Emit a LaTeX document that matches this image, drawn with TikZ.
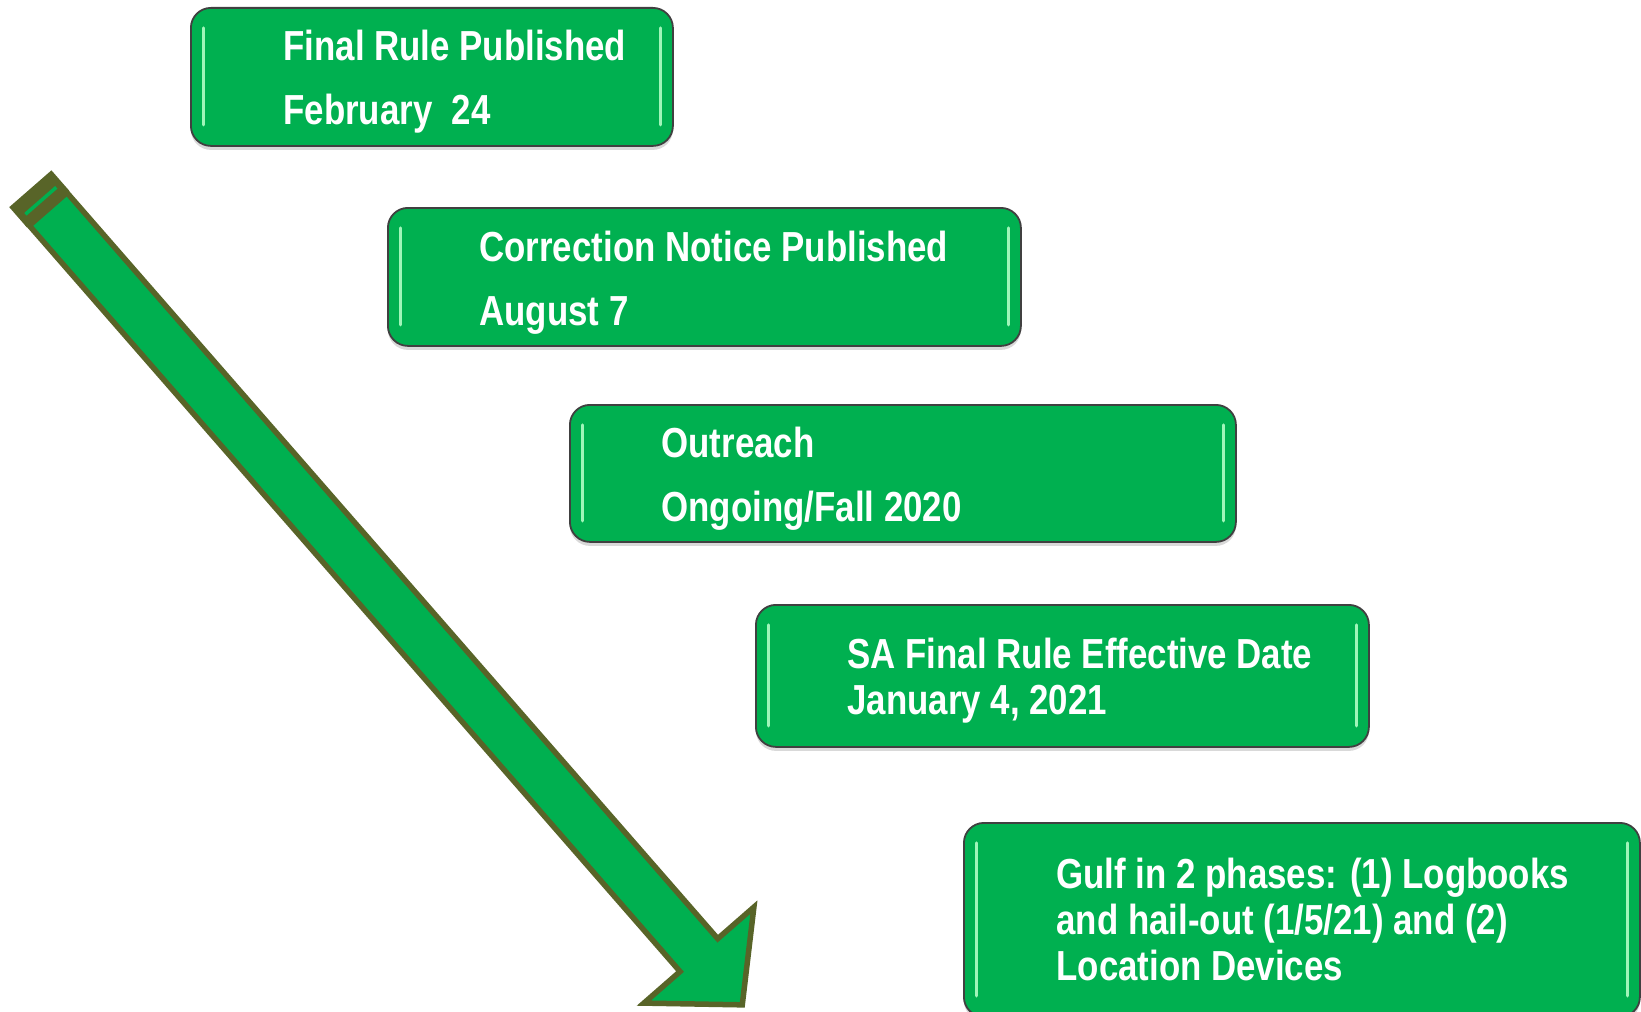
\documentclass[tikz,border=0pt]{standalone}
\usepackage{fontspec}
\newfontfamily\boxfont{Liberation Sans}[FakeStretch=0.83]
\usepackage{xcolor}
\usetikzlibrary{positioning, shadows}

\definecolor{boxgreen}{RGB}{0,176,80}
\definecolor{arrowedge}{RGB}{88,100,40}
\definecolor{hilite}{RGB}{160,245,185}

\begin{document}
\begin{tikzpicture}[x=0.5pt, y=-0.5pt,
			stepbox/.style={draw=black!75, line width=0.9pt, fill=boxgreen, rounded corners=10pt,
				anchor=north west, inner sep=0pt,
				drop shadow={opacity=0.3, shadow xshift=0pt, shadow yshift=-2pt},
				path picture={
					\draw[hilite, line width=1.6pt, line cap=round]
						([xshift=6.25pt, yshift=-10pt]path picture bounding box.north west) --
						([xshift=6.25pt, yshift=10.5pt]path picture bounding box.south west);
					\draw[hilite, line width=1.6pt, line cap=round]
						([xshift=-6.25pt, yshift=-10pt]path picture bounding box.north east) --
						([xshift=-6.25pt, yshift=10.5pt]path picture bounding box.south east);
				}},
			steptext/.style={anchor=north west, inner sep=0pt, align=left, text=white,
				font=\boxfont\bfseries\fontsize{21}{32}\selectfont},
			tighttext/.style={steptext, font=\boxfont\bfseries\fontsize{21}{23}\selectfont}
			]
			
			\useasboundingbox (0,0) rectangle (1641,1011);
			\clip (0,0) rectangle (1641,1011);
			
			% Arrow
			\begin{scope}[shift={(31,189.5)}, rotate=-48.9]
				\fill[arrowedge] (-1,-28) rectangle (26,28);
				\draw[boxgreen, line width=1.75pt] (15,-20.5) -- (15,20.5);
				\draw[arrowedge, fill=boxgreen, line width=2.75pt, line join=miter]
					(26,-25) -- (1016,-25) -- (1016,-73) -- (1082,0) -- (1016,73) -- (1016,25) -- (26,25) -- cycle;
			\end{scope}
			
			% Final rule
			\node[stepbox, minimum width=241pt, minimum height=69pt] (final) at (190,7) {};
			\node[steptext, below right=11.5pt and 46.5pt of final.north west] (finaltxt) {Final Rule Published\\February\ \ 24};
			
			% Correction
			\node[stepbox, minimum width=316.5pt, minimum height=69pt] (correction) at (387,207) {};
			\node[steptext, below right=12pt and 46pt of correction.north west] (correctiontxt) {Correction Notice Published\\August 7};
			
			% Outreach
			\node[stepbox, minimum width=333pt, minimum height=68.5pt] (outreach) at (569,404) {};
			\node[steptext, below right=11.5pt and 46pt of outreach.north west] (outreachtxt) {Outreach\\Ongoing/Fall 2020};
			
			% Effective date
			\node[stepbox, minimum width=306.5pt, minimum height=71pt] (effective) at (755,604) {};
			\node[tighttext, below right=17pt and 46pt of effective.north west] (effectivetxt) {SA Final Rule Effective Date\\January 4, 2021};
			
			% Gulf
			\node[stepbox, minimum width=338pt, minimum height=97pt] (gulf) at (963,822) {};
			\node[tighttext, below right=18pt and 46.5pt of gulf.north west] (gulftxt) {Gulf in 2 phases: (1) Logbooks\\and hail-out (1/5/21) and (2)\\Location Devices};
			
		\end{tikzpicture}
\end{document}
